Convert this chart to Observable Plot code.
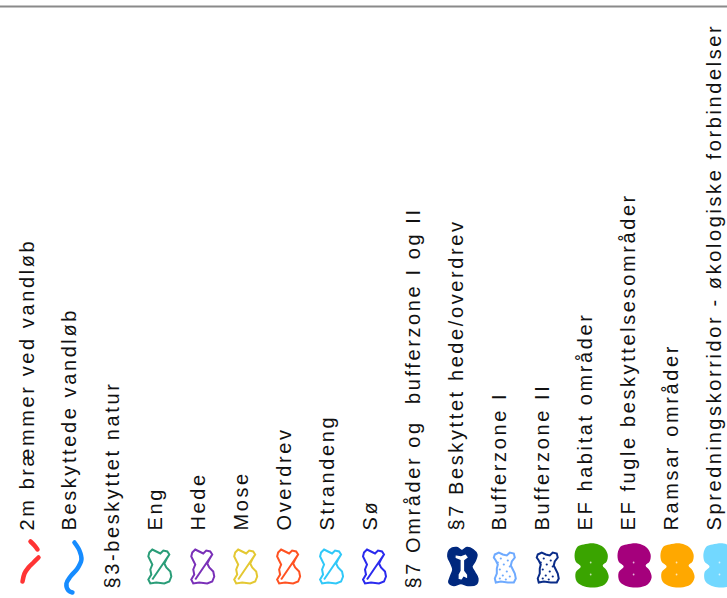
<!DOCTYPE html>
<html><head><meta charset="utf-8">
<script src="https://cdn.jsdelivr.net/npm/d3@7"></script>
<script src="https://cdn.jsdelivr.net/npm/@observablehq/plot@0.6"></script>
<style>
html,body{margin:0;padding:0;background:#fff;}
svg text{white-space:pre;}
</style>
</head><body><div id="chart"></div>
<script>
// Legend entries (rotated map legend)
const labels = [
  "2m bræmmer ved vandløb",
  "Beskyttede vandløb",
  "§3-beskyttet natur",
  "Eng",
  "Hede",
  "Mose",
  "Overdrev",
  "Strandeng",
  "Sø",
  "§7 Områder og  bufferzone I og II",
  "§7 Beskyttet hede/overdrev",
  "Bufferzone I",
  "Bufferzone II",
  "EF habitat områder",
  "EF fugle beskyttelsesområder",
  "Ramsar områder",
  "Spredningskorridor - økologiske forbindelser"
];
const kinds = [
  "dashline", "line", "none",
  "outline", "outline", "outline", "outline", "outline", "outline",
  "none", "solid", "dotted", "dotted",
  "blob", "blob", "blob", "blob"
];
const colors = [
  "#ff3434", "#168cff", "#000000",
  "#2a9d78", "#7a30b8", "#e4c832", "#ff5222", "#30c8f8", "#2a2aee",
  "#000000", "#00287e", "#6eaaff", "#0a2c88",
  "#3aa400", "#a5007c", "#ffa800", "#72d8ff"
];

const entries = labels.map((label, i) => ({index: i, label, kind: kinds[i], color: colors[i]}));

// ---- custom legend glyphs (drawn in pixel units around the dot centre) ----
const scaleOf = size => Math.sqrt(size / Math.PI) / 10;
function closedShape(ctx, pts, s, curve = d3.curveLinearClosed) {
  d3.line().curve(curve).context(ctx)(pts.map(([x, y]) => [x * s, y * s]));
}
function openShape(ctx, pts, s, curve = d3.curveCatmullRom) {
  d3.line().curve(curve).context(ctx)(pts.map(([x, y]) => [x * s, y * s]));
}
function dots(ctx, pts, s, r) {
  for (const [x, y] of pts) {
    ctx.moveTo(x * s + r * s, y * s);
    ctx.arc(x * s, y * s, r * s, 0, 2 * Math.PI);
  }
}
const torso = [[-10,-14],[-7,-17],[-3,-15],[1,-13],[4,-16],[8,-15],[10,-12],[7,-7],[5,-3],[7,1],[11,5],[12,10],[10,15],[5,17],[-3,16],[-9,17],[-11,13],[-8,8],[-9,3],[-7,-2],[-9,-6],[-11,-10]];
const torsoSym = {draw(ctx, size) {
  const s = scaleOf(size);
  closedShape(ctx, torso, s);
  ctx.moveTo(-7 * s, 13 * s); ctx.lineTo(10 * s, -12 * s);
}};
const bufTorso = [[-10,-13],[-6,-15],[-2,-13],[2,-12],[5,-15],[9,-14],[10,-10],[7,-6],[6,-2],[8,2],[10,6],[11,11],[9,15],[3,15],[-4,14],[-9,15],[-10,11],[-8,6],[-8,1],[-7,-3],[-9,-7],[-11,-10]];
const bufSym = {draw(ctx, size) { closedShape(ctx, bufTorso, scaleOf(size)); }};
const bufDots = [[-4,-9],[3,-7],[-1,-3],[5,-1],[-5,2],[2,4],[-2,8],[5,9],[-5,11],[1,12],[-7,-5]];
const bufDotSym = {draw(ctx, size) { dots(ctx, bufDots, scaleOf(size), 1.1); }};

const boneOuter = [[-13,-17],[-6,-19],[-1,-16],[4,-19],[10,-17],[14,-12],[12,-5],[9,0],[12,6],[15,12],[13,18],[5,19],[-2,17],[-9,19],[-14,16],[-12,9],[-10,3],[-12,-3],[-15,-10]];
const boneInner = [[-8,-12],[-2,-11],[3,-13],[6,-9],[2,-6],[2,4],[5,8],[5,13],[1,11],[-1,14],[-5,13],[-5,8],[-3,4],[-3,-6],[-8,-8]];
const boneSym = {draw(ctx, size) {
  const s = scaleOf(size);
  closedShape(ctx, boneOuter, s, d3.curveCatmullRomClosed);
  closedShape(ctx, boneInner.slice().reverse(), s);
}};

const blob = [[-8,-21],[3,-22],[12,-18],[16,-11],[15,-4],[11,0],[15,5],[17,12],[13,19],[3,22],[-7,21],[-15,16],[-16,7],[-11,1],[-16,-4],[-17,-12],[-14,-19]];
const blobSym = {draw(ctx, size) { closedShape(ctx, blob, scaleOf(size), d3.curveCatmullRomClosed); }};
const blobDotSym = {draw(ctx, size) { dots(ctx, [[-1,-3],[-1,9]], scaleOf(size), 0.9); }};

const redTop = [[1,-26],[5,-22],[8,-18]];
const redMain = [[9,-10],[4,-5],[-1,0],[-5,6],[-7,14]];
const dashSym = {draw(ctx, size) {
  const s = scaleOf(size);
  openShape(ctx, redTop, s);
  openShape(ctx, redMain, s);
}};
const blueLine = [[1,-25],[6,-17],[8,-8],[4,1],[-3,9],[-7,16],[-5,23],[-1,25]];
const lineSym = {draw(ctx, size) { openShape(ctx, blueLine, scaleOf(size)); }};

const font = {fontFamily: "'Liberation Sans', Arial, sans-serif", fontSize: 20, fill: "#111"};
const textBase = {x: "index", text: "label", frameAnchor: "bottom", rotate: -90, textAnchor: "start", lineAnchor: "bottom", ...font};
const sym = (kind, symbol, opts) => Plot.dot(entries.filter(d => d.kind === kind), {x: "index", frameAnchor: "bottom", r: 10, symbol, ...opts});

const chart = Plot.plot({
  width: 727,
  height: 598,
  margin: 0,
  style: {background: "white", letterSpacing: "2.6px", overflow: "visible"},
  x: {type: "linear", domain: [0, labels.length - 1], range: [33, 720], axis: null},
  y: {domain: [0, 1], range: [6, 598], axis: null},
  color: {type: "identity"},
  marks: [
    Plot.ruleY([0], {stroke: "#8a8a8a", strokeWidth: 2}),
    Plot.text(entries.filter(d => d.kind !== "none"), {...textBase, dy: -68}),
    Plot.text(entries.filter(d => d.kind === "none"), {...textBase, dy: -10}),
    sym("dashline", dashSym, {dx: -4, dy: -31, fill: "none", stroke: d => d.color, strokeWidth: 4.5, strokeLinecap: "round", strokeLinejoin: "round"}),
    sym("line", lineSym, {dx: -3, dy: -31, fill: "none", stroke: d => d.color, strokeWidth: 4.5, strokeLinecap: "round", strokeLinejoin: "round"}),
    sym("outline", torsoSym, {dx: -3, dy: -32, fill: "white", stroke: d => d.color, strokeWidth: 2}),
    sym("solid", boneSym, {dx: 0, dy: -32, fill: d => d.color, stroke: d => d.color, strokeWidth: 1.5}),
    sym("dotted", bufSym, {dx: -1, dy: -31, fill: "white", stroke: d => d.color, strokeWidth: 2}),
    sym("dotted", bufDotSym, {dx: -1, dy: -31, fill: d => d.color, stroke: "none"}),
    sym("blob", blobSym, {dx: 0, dy: -33, fill: d => d.color, stroke: "none"}),
    sym("blob", blobDotSym, {dx: 0, dy: -33, fill: "white", fillOpacity: 0.7, stroke: "none"})
  ]
});
document.getElementById("chart").appendChild(chart);
</script>
</body></html>
